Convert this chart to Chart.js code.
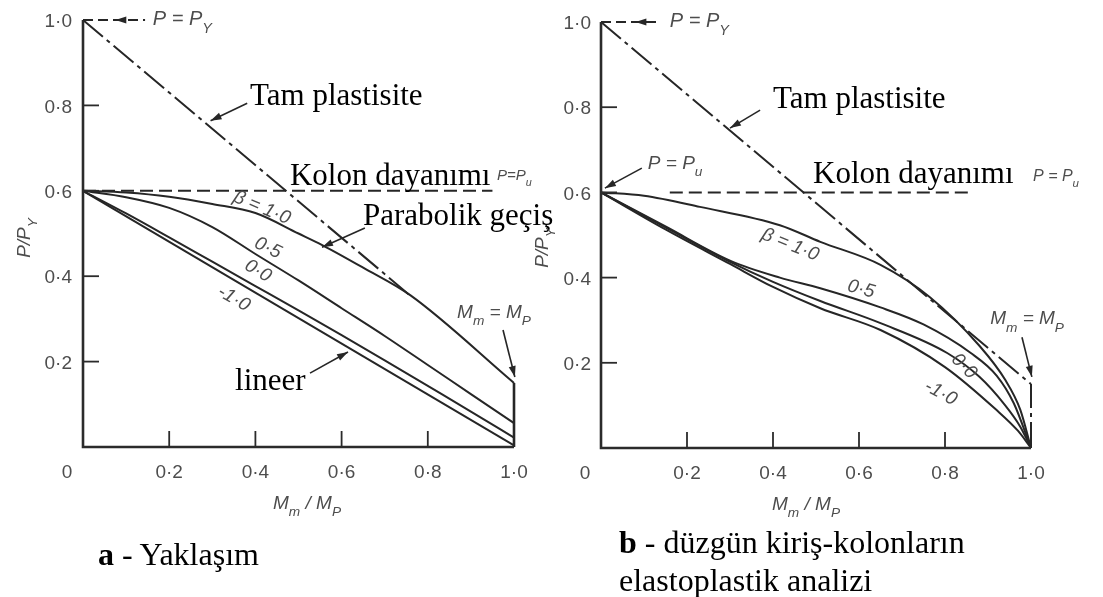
<!DOCTYPE html>
<html><head><meta charset="utf-8">
<script src="https://cdn.jsdelivr.net/npm/chart.js@4"></script>
<style>
html,body{margin:0;padding:0;background:#fff;width:1103px;height:597px;overflow:hidden}
canvas{position:absolute;left:0;top:0}
.cap{position:absolute;font-family:"Liberation Serif","Times New Roman",serif;font-size:32px;color:#000;white-space:nowrap;line-height:38px}
</style></head><body>
<canvas id="ca" width="1103" height="597"></canvas>
<canvas id="cb" width="1103" height="597"></canvas>
<div class="cap" style="left:98px;top:535px"><b>a</b> - Yaklaşım</div>
<div class="cap" style="left:619px;top:523px"><b>b</b> - düzgün kiriş-kolonların<br>elastoplastik analizi</div>
<script>
// ---- tick labels ----
const xTickVals = [0, 0.2, 0.4, 0.6, 0.8, 1.0];
const xTickLabels = ['0', '0·2', '0·4', '0·6', '0·8', '1·0'];
const yTickVals = [0.2, 0.4, 0.6, 0.8, 1.0];
const yTickLabels = ['0·2', '0·4', '0·6', '0·8', '1·0'];

// ---- panel a : Yaklaşım ----
const aPlastX = [0, 0.76];            const aPlastY = [1.0, 0.354];
const aColumnX = [0, 0.95];           const aColumnY = [0.6, 0.6];
const aEndX = [1.0, 1.0];             const aEndY = [0.0, 0.15];
const aB1X = [0, 0.1, 0.2, 0.3, 0.4, 0.5, 0.555, 0.65, 0.76, 1.0];
const aB1Y = [0.6, 0.596, 0.586, 0.569, 0.548, 0.5, 0.473, 0.42, 0.355, 0.15];
const aB05X = [0, 0.1, 0.2, 0.3, 0.4, 0.5, 0.6, 0.7, 0.8, 0.9, 1.0];
const aB05Y = [0.6, 0.585, 0.56, 0.515, 0.452, 0.39, 0.325, 0.26, 0.192, 0.124, 0.056];
const aB0X = [0, 0.1, 0.2, 0.3, 0.4, 0.5, 0.6, 0.7, 0.8, 0.9, 1.0];
const aB0Y = [0.6, 0.547, 0.491, 0.434, 0.377, 0.32, 0.262, 0.203, 0.143, 0.083, 0.022];
const aBm1X = [0, 1.0];               const aBm1Y = [0.6, 0.004];

// ---- panel b : elastoplastik analiz ----
const bPlastX = [0, 1.0];             const bPlastY = [1.0, 0.15];
const bColumnX = [0.16, 0.865];       const bColumnY = [0.6, 0.6];
const bEndX = [1.0, 1.0];             const bEndY = [0.0, 0.15];
const bB1X = [0, 0.1, 0.23, 0.416, 0.51, 0.65, 0.765, 0.88, 0.94, 0.975, 1.0];
const bB1Y = [0.6, 0.592, 0.566, 0.523, 0.484, 0.43, 0.354, 0.24, 0.16, 0.09, 0.0];
const bB05X = [0, 0.15, 0.3, 0.416, 0.51, 0.65, 0.75, 0.86, 0.92, 0.96, 1.0];
const bB05Y = [0.6, 0.52, 0.44, 0.40, 0.375, 0.33, 0.29, 0.223, 0.17, 0.105, 0.0];
const bB0X = [0, 0.15, 0.3, 0.4, 0.51, 0.65, 0.805, 0.88, 0.94, 0.975, 1.0];
const bB0Y = [0.6, 0.518, 0.437, 0.39, 0.345, 0.293, 0.223, 0.167, 0.1, 0.05, 0.0];
const bBm1X = [0, 0.15, 0.3, 0.4, 0.51, 0.65, 0.8, 0.92, 0.97, 1.0];
const bBm1Y = [0.6, 0.513, 0.432, 0.378, 0.328, 0.277, 0.19, 0.089, 0.04, 0.0];

const INK = '#262626';
const GRAY = '#4d4d4d';
const SANS = '"Liberation Sans", Arial, sans-serif';
const SERIF = '"Liberation Serif", "Times New Roman", serif';

function pts(xs, ys) { return xs.map((x, i) => ({ x: x, y: ys[i] })); }
function ds(xs, ys, opt) {
  return Object.assign({ data: pts(xs, ys), showLine: true, pointRadius: 0, borderColor: INK,
    borderWidth: 2, fill: false, clip: false, tension: 0 }, opt || {});
}
const curve = { cubicInterpolationMode: 'monotone' };
const dashDot = { borderDash: [26, 5, 4, 5], borderWidth: 2 };
const dashed = { borderDash: [13, 6], borderWidth: 2 };

function rich(ctx, parts, x, y, size, color, style, align) {
  ctx.save(); ctx.fillStyle = color; ctx.textBaseline = 'alphabetic'; ctx.textAlign = 'left';
  const f = s => (style || '') + ' ' + s + 'px ' + SANS;
  let w = 0;
  parts.forEach(p => { ctx.font = f(p[1] ? size * 0.72 : size); w += ctx.measureText(p[0]).width; });
  let cx = align === 'center' ? x - w / 2 : x;
  parts.forEach(p => {
    ctx.font = f(p[1] ? size * 0.72 : size);
    ctx.fillText(p[0], cx, y + (p[1] ? size * 0.38 : 0));
    cx += ctx.measureText(p[0]).width;
  });
  ctx.restore();
}
function arrow(ctx, x1, y1, x2, y2, color, width) {
  ctx.save(); ctx.strokeStyle = color; ctx.fillStyle = color; ctx.lineWidth = width || 1.6;
  ctx.beginPath(); ctx.moveTo(x1, y1); ctx.lineTo(x2, y2); ctx.stroke();
  head(ctx, x2, y2, Math.atan2(y2 - y1, x2 - x1), color);
  ctx.restore();
}
function head(ctx, x, y, a, color) {
  const L = 11, W = 3.5;
  ctx.save(); ctx.fillStyle = color; ctx.beginPath(); ctx.moveTo(x, y);
  ctx.lineTo(x - L * Math.cos(a) + W * Math.sin(a), y - L * Math.sin(a) - W * Math.cos(a));
  ctx.lineTo(x - L * Math.cos(a) - W * Math.sin(a), y - L * Math.sin(a) + W * Math.cos(a));
  ctx.closePath(); ctx.fill(); ctx.restore();
}

function makeDeco(cfg) {
  return {
    id: 'deco',
    afterDatasetsDraw(chart) {
      const ctx = chart.ctx, sx = chart.scales.x, sy = chart.scales.y;
      const X = v => sx.getPixelForValue(v), Y = v => sy.getPixelForValue(v);
      ctx.save();
      // axes
      ctx.strokeStyle = '#2b2b2b'; ctx.lineWidth = 2.6; ctx.setLineDash([]);
      ctx.beginPath(); ctx.moveTo(X(0), Y(1.0)); ctx.lineTo(X(0), Y(0)); ctx.lineTo(X(1.0), Y(0)); ctx.stroke();
      ctx.lineWidth = 1.8;
      yTickVals.forEach(v => { if (v < 1) { ctx.beginPath(); ctx.moveTo(X(0), Y(v)); ctx.lineTo(X(0) + 16, Y(v)); ctx.stroke(); } });
      xTickVals.forEach(v => { if (v > 0 && v < 1) { ctx.beginPath(); ctx.moveTo(X(v), Y(0)); ctx.lineTo(X(v), Y(0) - 16); ctx.stroke(); } });
      // tick labels
      ctx.fillStyle = GRAY; ctx.font = '19px ' + SANS;
      ctx.textAlign = 'right'; ctx.textBaseline = 'middle';
      yTickVals.forEach((v, i) => ctx.fillText(yTickLabels[i], X(0) - cfg.yLabGap, Y(v) + 2));
      ctx.textAlign = 'center'; ctx.textBaseline = 'alphabetic';
      xTickVals.forEach((v, i) => ctx.fillText(xTickLabels[i], v === 0 ? X(0) - 16 : X(v), Y(0) + 31));
      // axis titles
      rich(ctx, [['M', 0], ['m', 1], [' / M', 0], ['P', 1]], cfg.xTitleX, Y(0) + 62, 19, GRAY, 'italic', 'center');
      ctx.save(); ctx.translate(X(0) - 59, cfg.yTitleY); ctx.rotate(-Math.PI / 2);
      rich(ctx, [['P/P', 0], ['Y', 1]], 0, 6, 19, GRAY, 'italic', 'center');
      ctx.restore();
      // top P = PY marker
      ctx.strokeStyle = INK; ctx.lineWidth = 1.8; ctx.setLineDash([10, 5]);
      ctx.beginPath(); ctx.moveTo(X(0), Y(1.0)); ctx.lineTo(X(cfg.topEnd), Y(1.0)); ctx.stroke();
      ctx.setLineDash([]);
      head(ctx, X(cfg.topHead), Y(1.0), Math.PI, INK);
      rich(ctx, [['P = P', 0], ['Y', 1]], X(cfg.topText), Y(1.0) + 5, 20, GRAY, 'italic');
      // serif labels
      ctx.fillStyle = '#000'; ctx.font = '31px ' + SERIF; ctx.textAlign = 'left'; ctx.textBaseline = 'alphabetic';
      cfg.serif.forEach(s => ctx.fillText(s[0], X(s[1]), Y(s[2])));
      // sans rich labels
      cfg.rich.forEach(r => rich(ctx, r[0], X(r[1]), Y(r[2]), r[3], GRAY, 'italic'));
      // arrows
      cfg.arrows.forEach(a => arrow(ctx, X(a[0]), Y(a[1]), X(a[2]), Y(a[3]), INK));
      // beta labels
      cfg.beta.forEach(b => {
        ctx.save(); ctx.translate(X(b[1]), Y(b[2])); ctx.rotate(b[3] * Math.PI / 180);
        ctx.fillStyle = GRAY; ctx.font = 'italic 19px ' + SANS; ctx.textAlign = 'center'; ctx.textBaseline = 'middle';
        ctx.fillText(b[0], 0, 0); ctx.restore();
      });
      ctx.restore();
    }
  };
}

function build(id, pad, datasets, cfg) {
  return new Chart(document.getElementById(id), {
    type: 'scatter',
    data: { datasets: datasets },
    options: {
      responsive: false, animation: false, devicePixelRatio: 1,
      layout: { padding: pad },
      plugins: { legend: { display: false }, tooltip: { enabled: false } },
      scales: {
        x: { type: 'linear', min: 0, max: 1, display: false },
        y: { type: 'linear', min: 0, max: 1, display: false }
      }
    },
    plugins: [makeDeco(cfg)]
  });
}

build('ca', { left: 83, right: 589, top: 20, bottom: 150 }, [
  ds(aPlastX, aPlastY, dashDot),
  ds(aColumnX, aColumnY, dashed),
  ds(aEndX, aEndY, { borderWidth: 2.6 }),
  ds(aB1X, aB1Y, curve),
  ds(aB05X, aB05Y, curve),
  ds(aB0X, aB0Y, curve),
  ds(aBm1X, aBm1Y)
], {
  yLabGap: 11, xTitleX: 307, yTitleY: 238, topEnd: 0.144, topHead: 0.075, topText: 0.162,
  serif: [['Tam plastisite', 0.3875, 0.801], ['Kolon dayanımı', 0.48, 0.6136], ['Parabolik geçiş', 0.6497, 0.52], ['lineer', 0.3527, 0.1335]],
  rich: [
    [[['P=P', 0], ['u', 1]], 0.9606, 0.625, 15],
    [[['M', 0], ['m', 1], [' = M', 0], ['P', 1]], 0.868, 0.302, 19]
  ],
  arrows: [
    [0.381, 0.805, 0.296, 0.764],
    [0.654, 0.513, 0.5545, 0.468],
    [0.5267, 0.173, 0.6148, 0.2225],
    [0.9745, 0.274, 1.002, 0.164]
  ],
  beta: [['β = 1·0', 0.415, 0.56, 23], ['0·5', 0.429, 0.466, 25], ['0·0', 0.406, 0.412, 30], ['-1·0', 0.35, 0.347, 30]]
});

build('cb', { left: 601, right: 72, top: 22, bottom: 149 }, [
  ds(bPlastX, bPlastY, dashDot),
  ds(bColumnX, bColumnY, dashed),
  ds(bEndX, bEndY, dashDot),
  ds(bB1X, bB1Y, curve),
  ds(bB05X, bB05Y, curve),
  ds(bB0X, bB0Y, curve),
  ds(bBm1X, bBm1Y, curve)
], {
  yLabGap: 10, xTitleX: 806, yTitleY: 248, topEnd: 0.137, topHead: 0.08, topText: 0.16,
  serif: [['Tam plastisite', 0.40, 0.798], ['Kolon dayanımı', 0.493, 0.622]],
  rich: [
    [[['P = P', 0], ['u', 1]], 1.0047, 0.627, 16],
    [[['P = P', 0], ['u', 1]], 0.109, 0.655, 19],
    [[['M', 0], ['m', 1], [' = M', 0], ['P', 1]], 0.905, 0.29, 19]
  ],
  arrows: [
    [0.37, 0.793, 0.30, 0.751],
    [0.095, 0.657, 0.009, 0.61],
    [0.979, 0.26, 1.002, 0.167]
  ],
  beta: [['β = 1·0', 0.44, 0.477, 22], ['0·5', 0.605, 0.373, 15], ['0·0', 0.844, 0.192, 45], ['-1·0', 0.79, 0.129, 28]]
});
</script>
</body></html>
